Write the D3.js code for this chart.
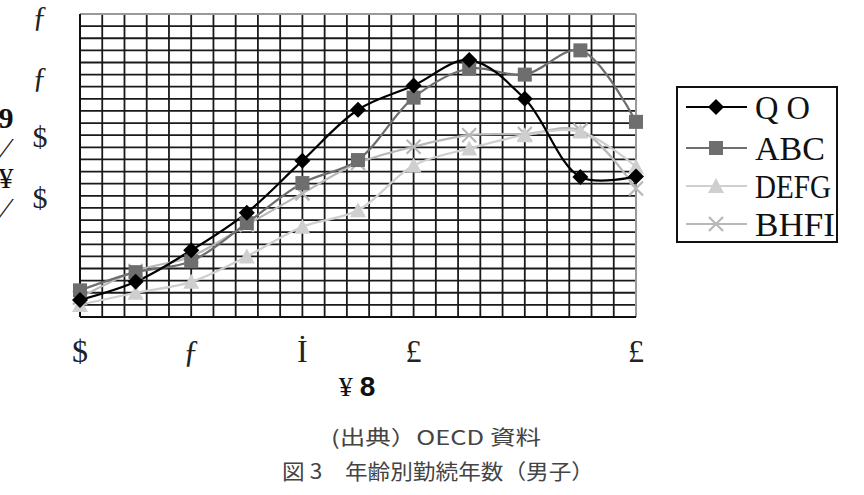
<!DOCTYPE html>
<html>
<head>
<meta charset="utf-8">
<script src="https://cdn.jsdelivr.net/npm/d3@7"></script>
<style>
  body { margin: 0; background: #fff; }
</style>
</head>
<body>
<script>
// values (11 age groups, years of service)
const seriesNames = ["Q O", "ABC", "DEFG", "BHFI"];
const seriesA = [1.4, 2.9, 5.5, 8.6, 12.9, 17.1, 19.1, 21.2, 18.0, 11.55, 11.6];
const seriesB = [2.2, 3.7, 4.6, 7.75, 11.05, 12.95, 18.1, 20.5, 20.0, 22.0, 16.1];
const seriesC = [1.0, 2.0, 2.9, 5.0, 7.45, 8.8, 12.5, 13.9, 15.0, 15.3, 12.4];
const seriesD = [1.6, 3.8, 5.0, 7.6, 10.2, 12.7, 14.05, 15.0, 15.1, 15.4, 10.6];
const xTickIdx = [0, 2, 4, 6, 10];
const xTickLabels = ["$", "ƒ", "İ", "£", "£"];
const yTickVals = [25, 20, 15, 10];
const yTickLabels = ["ƒ", "ƒ", "$", "$"];
const yTitleGlyphs = ["9", "⁄", "¥", "⁄"];
const sourceNote = "(出典）OECD 資料";
const caption = "図 3　年齢別勤続年数（男子）";

const W = 864, H = 495;
const svg = d3.select("body").append("svg").attr("width", W).attr("height", H);

const x = d3.scaleLinear().domain([0, 10]).range([80, 636]);
const y = d3.scaleLinear().domain([0, 25]).range([317, 14]);

const grid = svg.append("g");
d3.range(0, 25.5, 1).forEach(v => {
  grid.append("line")
    .attr("x1", x(0)).attr("x2", x(10))
    .attr("y1", y(v)).attr("y2", y(v))
    .attr("stroke", "#1a1a1a").attr("stroke-width", 1.8);
});
d3.range(0, 25.5, 1).forEach(i => {
  const xv = x(i * 0.4);
  grid.append("line")
    .attr("x1", xv).attr("x2", xv)
    .attr("y1", y(0)).attr("y2", y(25))
    .attr("stroke", "#1a1a1a").attr("stroke-width", 1.8);
});
// frame: grey on top/right
svg.append("line").attr("x1", x(0)).attr("x2", x(10)).attr("y1", y(25)).attr("y2", y(25))
  .attr("stroke", "#999").attr("stroke-width", 2);
svg.append("line").attr("x1", x(10)).attr("x2", x(10)).attr("y1", y(0)).attr("y2", y(25))
  .attr("stroke", "#999").attr("stroke-width", 2);
svg.append("line").attr("x1", x(0)).attr("x2", x(0)).attr("y1", y(0)).attr("y2", y(25))
  .attr("stroke", "#111").attr("stroke-width", 2);
svg.append("line").attr("x1", x(0)).attr("x2", x(10)).attr("y1", y(0)).attr("y2", y(0))
  .attr("stroke", "#111").attr("stroke-width", 2);

// tick labels
svg.append("g").selectAll("text").data(yTickVals).join("text")
  .attr("x", 40).attr("y", d => y(d) + 12)
  .attr("text-anchor", "middle")
  .attr("font-family", "Liberation Serif").attr("font-size", 30).attr("fill", "#222")
  .text((d, i) => yTickLabels[i]);
svg.append("g").selectAll("text").data(xTickIdx).join("text")
  .attr("x", d => x(d)).attr("y", 362)
  .attr("text-anchor", "middle")
  .attr("font-family", "Liberation Serif").attr("font-size", 32).attr("fill", "#222")
  .text((d, i) => xTickLabels[i]);

svg.append("g").selectAll("text").data(yTitleGlyphs).join("text")
  .attr("x", 6).attr("y", (d, i) => 128 + i * 30)
  .attr("text-anchor", "middle")
  .attr("font-family", "Liberation Serif").attr("font-size", 30)
  .attr("font-weight", (d, i) => i === 0 ? "bold" : "normal").attr("fill", "#111")
  .text(d => d);

const xt = svg.append("text").attr("x", 357).attr("y", 396).attr("text-anchor", "middle")
  .attr("font-family", "Liberation Serif").attr("font-size", 28).attr("fill", "#111");
xt.append("tspan").text("¥ ");
xt.append("tspan").attr("font-family", "Liberation Sans").attr("font-weight", "bold").text("8");

// series
const styles = [
  { data: seriesA, color: "#000", shape: "diamond" },
  { data: seriesB, color: "#6e6e6e", shape: "square" },
  { data: seriesC, color: "#cfcfcf", shape: "triangle" },
  { data: seriesD, color: "#b8b8b8", shape: "x" }
];
const line = d3.line().x((d, i) => x(i)).y(d => y(d)).curve(d3.curveCatmullRom.alpha(0.5));

function marker(g, shape, color, cx, cy) {
  if (shape === "diamond") {
    g.append("path").attr("d", `M${cx},${cy - 8}L${cx + 8},${cy}L${cx},${cy + 8}L${cx - 8},${cy}Z`).attr("fill", color);
  } else if (shape === "square") {
    g.append("rect").attr("x", cx - 7).attr("y", cy - 7).attr("width", 14).attr("height", 14).attr("fill", color);
  } else if (shape === "triangle") {
    g.append("path").attr("d", `M${cx},${cy - 8}L${cx + 8},${cy + 7}L${cx - 8},${cy + 7}Z`).attr("fill", color);
  } else {
    g.append("path").attr("d", `M${cx - 7},${cy - 7}L${cx + 7},${cy + 7}M${cx - 7},${cy + 7}L${cx + 7},${cy - 7}`)
      .attr("stroke", color).attr("stroke-width", 2.2).attr("fill", "none");
  }
}

const seriesG = svg.append("g");
styles.slice().reverse().forEach(s => {
  seriesG.append("path").attr("d", line(s.data)).attr("fill", "none")
    .attr("stroke", s.color).attr("stroke-width", 2.2);
});
styles.slice().reverse().forEach(s => {
  const g = seriesG.append("g");
  s.data.forEach((v, i) => marker(g, s.shape, s.color, x(i), y(v)));
});

// legend
const lg = svg.append("g");
lg.append("rect").attr("x", 677).attr("y", 87).attr("width", 160).attr("height", 155)
  .attr("fill", "#fff").attr("stroke", "#111").attr("stroke-width", 2);
const legendY = [107, 148, 186, 224];
const legendW = [55, 70, 76, 80];
styles.forEach((s, i) => {
  const ly = legendY[i];
  lg.append("line").attr("x1", 686).attr("x2", 747).attr("y1", ly).attr("y2", ly)
    .attr("stroke", s.color).attr("stroke-width", 2.2);
  marker(lg, s.shape, s.color, 716, ly);
  lg.append("text").attr("x", 755).attr("y", ly + 12)
    .attr("font-family", "Liberation Serif").attr("font-size", 34).attr("fill", "#111")
    .attr("textLength", legendW[i]).attr("lengthAdjust", "spacingAndGlyphs")
    .text(seriesNames[i]);
});

// captions
svg.append("text").attr("x", 436).attr("y", 445).attr("text-anchor", "middle")
  .attr("font-family", "Noto Sans CJK JP").attr("font-size", 20).attr("fill", "#444")
  .attr("textLength", 210).attr("lengthAdjust", "spacingAndGlyphs")
  .text(sourceNote);
svg.append("text").attr("x", 438).attr("y", 479).attr("text-anchor", "middle")
  .attr("font-family", "Noto Sans CJK JP").attr("font-size", 21).attr("fill", "#444")
  .attr("textLength", 312).attr("lengthAdjust", "spacingAndGlyphs")
  .text(caption);
</script>
</body>
</html>
